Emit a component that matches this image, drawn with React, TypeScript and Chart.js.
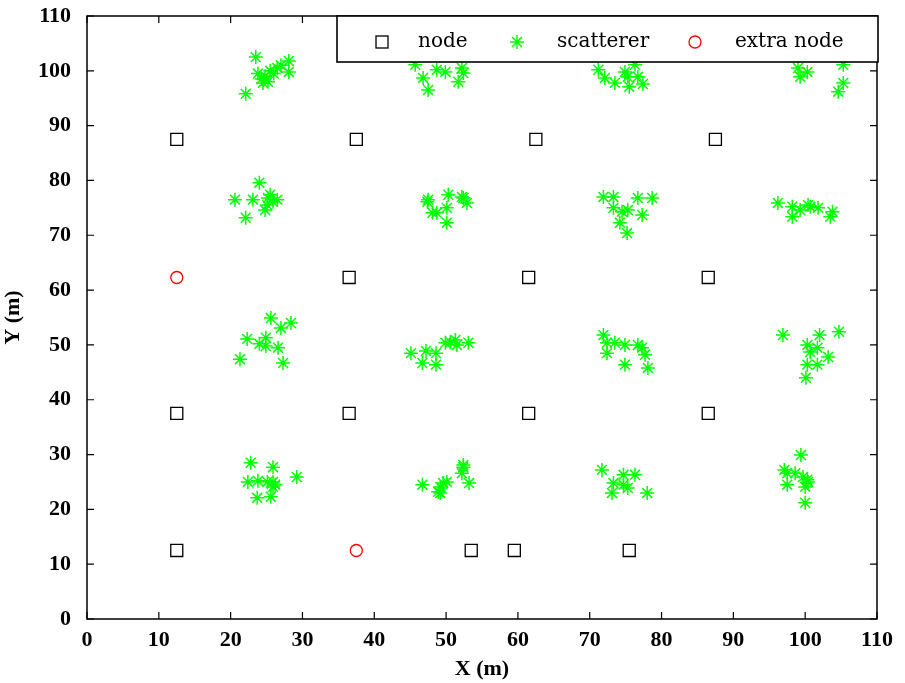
import React, { useEffect, useRef } from "react";
import { Chart, registerables } from "chart.js";

Chart.register(...registerables);

const nodePoints: [number, number][] = [
  [12.5, 87.5], [37.5, 87.5], [62.5, 87.5], [87.5, 87.5],
  [36.5, 62.3], [61.5, 62.3], [86.5, 62.3],
  [12.5, 37.5], [36.5, 37.5], [61.5, 37.5], [86.5, 37.5],
  [12.5, 12.5], [53.5, 12.5], [59.5, 12.5], [75.5, 12.5],
];

const extraNodePoints: [number, number][] = [
  [12.5, 62.3], [37.5, 12.5],
];

const scattererPoints: [number, number][] = [
  // top row
  [23.5, 102.5], [22.1, 95.8], [23.8, 99.5], [24.3, 98.5], [24.8, 99], [25.2, 98], [25.5, 100], [26, 99.5], [26.5, 100.5], [27, 101], [24.5, 97.8], [28.1, 101.8], [28.1, 99.8],
  [45.7, 101.1], [46.8, 98.7], [47.5, 96.5], [48.7, 100.2], [49.9, 99.8], [51.7, 98], [52.2, 100.5], [52.4, 99.6],
  [71.2, 100.2], [72.1, 98.7], [73.5, 97.8], [74.9, 99.8], [75.3, 98.9], [75.5, 97.1], [76.3, 101.1], [76.7, 98.9], [77.4, 97.6],
  [99, 100.5], [99.3, 98.9], [100.3, 99.8], [105.3, 101.1], [105.3, 97.8], [104.6, 96.2],
  // second row
  [24, 79.6], [20.6, 76.5], [23.1, 76.5], [22.1, 73.2], [25.2, 76.8], [25.9, 76.1], [26.5, 76.5], [24.8, 74.6], [25.1, 75.5], [25.5, 77.4],
  [47.4, 76.1], [47.5, 76.5], [48.1, 74.1], [48.7, 74.1], [50.3, 77.4], [50.1, 75], [50.1, 72.3], [52.4, 76.8], [52.9, 75.9], [52.2, 77],
  [71.9, 77], [73.3, 77], [73.3, 75], [74.5, 74.3], [75.3, 74.6], [77.3, 73.7], [76.7, 76.8], [78.7, 76.8], [74.2, 72.3], [75.2, 70.4],
  [96.2, 75.9], [98.2, 75.2], [98.2, 73.4], [99.3, 74.6], [100.4, 75.5], [100.7, 75.2], [101.8, 75], [103.8, 74.3], [103.5, 73.4],
  // third row
  [25.6, 54.9], [27, 53.1], [28.4, 54], [22.3, 51.1], [24, 50.2], [24.9, 51.3], [24.9, 49.8], [26.6, 49.5], [21.3, 47.4], [27.3, 46.7],
  [45.1, 48.5], [47.2, 48.9], [48.6, 48.5], [46.7, 46.7], [48.6, 46.4], [49.9, 50.4], [50.6, 50.5], [51.3, 50.9], [51.5, 50], [53.1, 50.4],
  [71.9, 51.8], [72.4, 50.4], [72.4, 48.5], [73.5, 50.4], [74.9, 50], [76.7, 50], [77.3, 49.5], [77.7, 48.2], [74.9, 46.4], [78.1, 45.8],
  [96.9, 51.8], [102, 51.8], [104.7, 52.4], [100.3, 50], [100.7, 48.7], [101.7, 49.5], [103.2, 47.8], [100.3, 46.4], [101.7, 46.4], [100.1, 44],
  // bottom row
  [22.8, 28.5], [25.9, 27.7], [29.2, 25.9], [22.4, 25], [23.8, 25.2], [25.1, 25], [25.9, 25], [26.2, 24.5], [25.9, 24.1], [23.7, 22.1], [25.6, 22.3],
  [46.7, 24.5], [49.2, 24.1], [48.9, 23.2], [49.2, 23], [49.6, 24.8], [50.1, 25], [52.4, 28.1], [52.2, 26.6], [52.4, 27.7], [53.2, 24.8],
  [71.7, 27.2], [73.3, 24.8], [73.1, 23], [74.7, 26.3], [74.7, 24.5], [75.3, 23.9], [76.3, 26.3], [78, 23],
  [99.4, 29.9], [97.1, 27.2], [97.5, 26.6], [97.5, 24.5], [98.6, 26.6], [99.7, 25.9], [100.3, 25.4], [100.4, 25], [100, 24.1], [100, 21.2],
];

const legendLabels = ["node", "scatterer", "extra node"];
const axisMin = 0;
const axisMax = 110;
const axisStep = 10;

const TICK_FONT = { family: "'Liberation Serif', 'Times New Roman', serif", size: 22, weight: "bold" as const };
const LEGEND_FONT = "20px 'DejaVu Serif', serif";

const boxPlugin = {
  id: "matlabBox",
  afterDraw(chart: any) {
    const { ctx, chartArea } = chart;
    const { left, right, top, bottom } = chartArea;
    const xs = chart.scales.x;
    const ys = chart.scales.y;
    ctx.save();
    ctx.strokeStyle = "#000";
    ctx.lineWidth = 1.5;
    ctx.beginPath();
    ctx.rect(left, top, right - left, bottom - top);
    ctx.stroke();
    const tl = 7;
    ctx.lineWidth = 1.2;
    ctx.beginPath();
    xs.ticks.forEach((t: any) => {
      const px = xs.getPixelForValue(t.value);
      ctx.moveTo(px, bottom);
      ctx.lineTo(px, bottom - tl);
      ctx.moveTo(px, top);
      ctx.lineTo(px, top + tl);
    });
    ys.ticks.forEach((t: any) => {
      const py = ys.getPixelForValue(t.value);
      ctx.moveTo(left, py);
      ctx.lineTo(left + tl, py);
      ctx.moveTo(right, py);
      ctx.lineTo(right - tl, py);
    });
    ctx.stroke();

    // legend box
    const bw = 541;
    const bh = 46;
    const bx = right - bw + 1;
    const by = top;
    ctx.fillStyle = "#fff";
    ctx.fillRect(bx, by, bw, bh);
    ctx.lineWidth = 1.6;
    ctx.strokeStyle = "#000";
    ctx.strokeRect(bx, by, bw, bh);
    const cy = by + 26;
    // square
    ctx.lineWidth = 1.3;
    ctx.strokeRect(bx + 45 - 6, cy - 6, 12, 12);
    // star
    const sx = bx + 180;
    const r = 7;
    const d = r * Math.SQRT1_2;
    ctx.strokeStyle = "#00ff00";
    ctx.lineWidth = 1.5;
    ctx.beginPath();
    ctx.moveTo(sx - r, cy); ctx.lineTo(sx + r, cy);
    ctx.moveTo(sx, cy - r); ctx.lineTo(sx, cy + r);
    ctx.moveTo(sx - d, cy - d); ctx.lineTo(sx + d, cy + d);
    ctx.moveTo(sx - d, cy + d); ctx.lineTo(sx + d, cy - d);
    ctx.stroke();
    // circle
    ctx.strokeStyle = "#ff0000";
    ctx.lineWidth = 1.3;
    ctx.beginPath();
    ctx.arc(bx + 358, cy, 6, 0, Math.PI * 2);
    ctx.stroke();
    // text
    ctx.fillStyle = "#000";
    ctx.font = LEGEND_FONT;
    ctx.textBaseline = "middle";
    ctx.textAlign = "left";
    ctx.fillText(legendLabels[0], bx + 81, cy);
    ctx.fillText(legendLabels[1], bx + 220, cy);
    ctx.fillText(legendLabels[2], bx + 398, cy);
    ctx.restore();
  },
};

export default function App() {
  const ref = useRef<HTMLCanvasElement | null>(null);
  useEffect(() => {
    document.body.style.margin = "0";
    const canvas = ref.current;
    if (!canvas) return;
    const toXY = (arr: [number, number][]) => arr.map(([x, y]) => ({ x, y }));
    const chart = new Chart(canvas, {
      type: "scatter",
      data: {
        datasets: [
          {
            label: legendLabels[1],
            data: toXY(scattererPoints),
            pointStyle: "star",
            pointRadius: 7,
            pointHoverRadius: 7,
            borderColor: "#00ff00",
            backgroundColor: "#00ff00",
            pointBorderWidth: 1.5,
          },
          {
            label: legendLabels[0],
            data: toXY(nodePoints),
            pointStyle: "rect",
            pointRadius: 8.5,
            pointHoverRadius: 8.5,
            borderColor: "#000",
            backgroundColor: "rgba(0,0,0,0)",
            pointBorderWidth: 1.3,
          },
          {
            label: legendLabels[2],
            data: toXY(extraNodePoints),
            pointStyle: "circle",
            pointRadius: 6,
            pointHoverRadius: 6,
            borderColor: "#ff0000",
            backgroundColor: "rgba(0,0,0,0)",
            pointBorderWidth: 1.3,
          },
        ],
      },
      options: {
        responsive: false,
        animation: false,
        devicePixelRatio: 1,
        layout: { padding: { top: 16, right: 28, left: 0, bottom: 0 } },
        plugins: { legend: { display: false }, tooltip: { enabled: false } },
        scales: {
          x: {
            type: "linear",
            min: axisMin,
            max: axisMax,
            ticks: { stepSize: axisStep, font: TICK_FONT, color: "#000", padding: 0, maxRotation: 0 },
            grid: { display: false },
            border: { display: false },
            title: { display: true, text: "X (m)", font: TICK_FONT, color: "#000", padding: 0 },
            afterFit: (s: any) => { s.height = 64; s.paddingLeft = 0; s.paddingRight = 0; },
          },
          y: {
            type: "linear",
            min: axisMin,
            max: axisMax,
            ticks: { stepSize: axisStep, font: TICK_FONT, color: "#000", padding: 8 },
            grid: { display: false },
            border: { display: false },
            title: { display: true, text: "Y (m)", font: TICK_FONT, color: "#000", padding: 0 },
            afterFit: (s: any) => { s.width = 87; s.paddingTop = 0; s.paddingBottom = 0; },
          },
        },
      },
      plugins: [boxPlugin],
    } as any);
    return () => chart.destroy();
  }, []);
  return (
    <div style={{ width: 905, height: 683 }}>
      <canvas ref={ref} width={905} height={683} style={{ display: "block" }} />
    </div>
  );
}
